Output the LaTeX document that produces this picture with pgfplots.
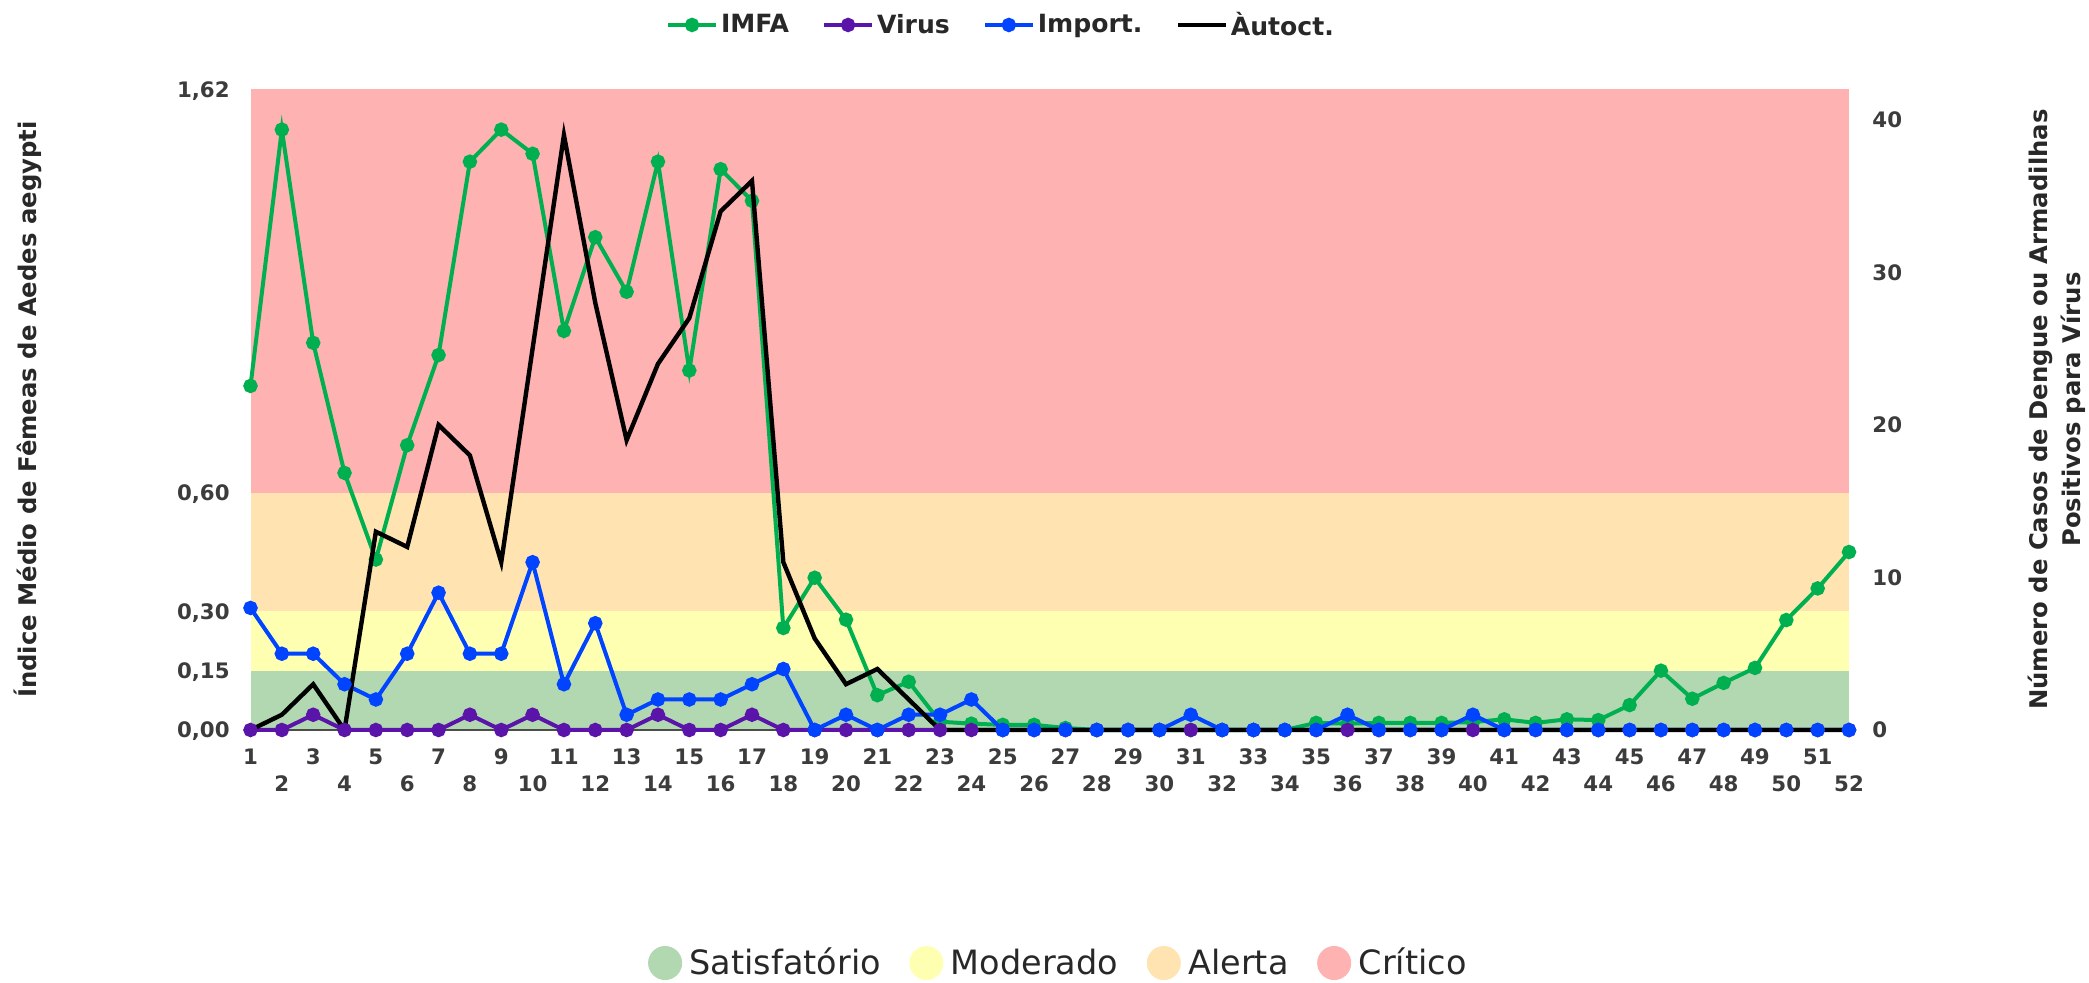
\documentclass[border=0pt]{standalone}
\usepackage{fontspec}
\setmainfont{DejaVu Sans}
\usepackage{pgfplots}
\pgfplotsset{compat=1.18}

\definecolor{bandR}{RGB}{255,178,178}
\definecolor{bandO}{RGB}{255,228,178}
\definecolor{bandY}{RGB}{255,255,178}
\definecolor{bandG}{RGB}{178,216,178}
\definecolor{cimfa}{RGB}{0,176,80}
\definecolor{cvirus}{RGB}{90,20,170}
\definecolor{cimport}{RGB}{0,68,255}
\definecolor{ctick}{RGB}{60,60,60}
\definecolor{ctext}{RGB}{40,40,40}

\pgfplotsset{
 common/.style={
  scale only axis, width=799.25bp, height=320.35bp,
  at={(125.25bp,126.5bp)}, anchor=south west,
  xmin=1, xmax=52,
  axis line style={draw=none},
  major tick length=0pt,
  clip=false,
  /pgf/number format/assume math mode=true,
  tick label style={font=\bfseries\fontsize{10.7}{12}\selectfont, text=ctick},
 }
}

\begin{document}
\begin{tikzpicture}
\useasboundingbox (0,0) rectangle (1044.5bp,491.5bp);

\begin{axis}[common,
  ymin=0, ymax=1.62,
  ytick={0,0.15,0.30,0.60,1.62},
  yticklabels={{0,00},{0,15},{0,30},{0,60},{1,62}},
  yticklabel style={anchor=base east, inner sep=0pt, xshift=-10.25bp, yshift=-3.9bp},
  xtick={1,3,...,51},
  xticklabel style={anchor=north, inner sep=0pt, yshift=-9.1bp},
  extra x ticks={2,4,...,52},
  extra x tick style={xticklabel style={yshift=-13.5bp}},
  legend style={at={(0.5058,-0.3637)}, anchor=center, draw=none, fill=none,
    legend columns=4, font=\fontsize{16.8}{20}\selectfont, text=ctext,
    nodes={inner sep=1.5bp},
    /tikz/every odd column/.append style={column sep=2.5bp},
    /tikz/every even column/.append style={column sep=13bp}},
]
\fill[bandG] (axis cs:1,0) rectangle (axis cs:52,0.15);
\fill[bandY] (axis cs:1,0.15) rectangle (axis cs:52,0.30);
\fill[bandO] (axis cs:1,0.30) rectangle (axis cs:52,0.60);
\fill[bandR] (axis cs:1,0.60) rectangle (axis cs:52,1.62);
\draw[black!70, line width=0.8bp] (axis cs:1,0) -- (axis cs:52,0);

\addplot[cimfa, line width=2bp, mark=*, mark size=2.6bp, forget plot] coordinates {
(1,0.870) (2,1.518) (3,0.979) (4,0.650) (5,0.431) (6,0.720) (7,0.948) (8,1.437)
(9,1.518) (10,1.457) (11,1.009) (12,1.246) (13,1.108) (14,1.437) (15,0.909) (16,1.418)
(17,1.338) (18,0.258) (19,0.385) (20,0.279) (21,0.088) (22,0.122) (23,0.021) (24,0.016)
(25,0.013) (26,0.013) (27,0.005) (28,0) (29,0) (30,0) (31,0) (32,0)
(33,0) (34,0) (35,0.018) (36,0.016) (37,0.018) (38,0.018) (39,0.018) (40,0.020)
(41,0.027) (42,0.018) (43,0.027) (44,0.025) (45,0.063) (46,0.150) (47,0.079) (48,0.119)
(49,0.157) (50,0.278) (51,0.358) (52,0.450)
};

\addlegendimage{only marks, mark=*, mark size=8.3bp, color=bandG}
\addlegendentry{Satisfatório}
\addlegendimage{only marks, mark=*, mark size=8.3bp, color=bandY}
\addlegendentry{Moderado}
\addlegendimage{only marks, mark=*, mark size=8.3bp, color=bandO}
\addlegendentry{Alerta}
\addlegendimage{only marks, mark=*, mark size=8.3bp, color=bandR}
\addlegendentry{Crítico}
\end{axis}

\begin{axis}[common,
  ymin=0, ymax=42,
  ytick={0,10,20,30,40},
  yticklabel pos=right,
  yticklabel style={anchor=base west, inner sep=0pt, xshift=11.5bp, yshift=-3.9bp},
  xtick=\empty,
  legend style={at={(0.4698,1.1004)}, anchor=center, draw=none, fill=none,
    legend columns=4, font=\bfseries\fontsize{12.6}{14}\selectfont, text=ctext,
    nodes={inner sep=1.5bp},
    /tikz/every even column/.append style={column sep=15bp}},
  legend image code/.code={\draw[mark repeat=2,mark phase=2] plot coordinates {(0bp,0bp) (12bp,0bp) (24bp,0bp)};},
]
\addlegendimage{cimfa, line width=2bp, mark=*, mark size=2.6bp}
\addlegendentry{IMFA}

\addplot[cvirus, line width=2bp, mark=*, mark size=2.6bp] coordinates {
(1,0) (2,0) (3,1) (4,0) (5,0) (6,0) (7,0) (8,1) (9,0) (10,1) (11,0) (12,0) (13,0)
(14,1) (15,0) (16,0) (17,1) (18,0) (19,0) (20,0) (21,0) (22,0) (23,0) (24,0) (25,0) (26,0)
(27,0) (28,0) (29,0) (30,0) (31,0) (32,0) (33,0) (34,0) (35,0) (36,0) (37,0) (38,0) (39,0)
(40,0) (41,0) (42,0) (43,0) (44,0) (45,0) (46,0) (47,0) (48,0) (49,0) (50,0) (51,0) (52,0)
};
\addlegendentry{Virus}

\addplot[cimport, line width=2bp, mark=*, mark size=2.6bp] coordinates {
(1,8) (2,5) (3,5) (4,3) (5,2) (6,5) (7,9) (8,5) (9,5) (10,11) (11,3) (12,7) (13,1)
(14,2) (15,2) (16,2) (17,3) (18,4) (19,0) (20,1) (21,0) (22,1) (23,1) (24,2) (25,0) (26,0)
(27,0) (28,0) (29,0) (30,0) (31,1) (32,0) (33,0) (34,0) (35,0) (36,1) (37,0) (38,0) (39,0)
(40,1) (41,0) (42,0) (43,0) (44,0) (45,0) (46,0) (47,0) (48,0) (49,0) (50,0) (51,0) (52,0)
};
\addlegendentry{Import.}

\addplot[black, line width=2.2bp, no marks] coordinates {
(1,0) (2,1) (3,3) (4,0) (5,13) (6,12) (7,20) (8,18) (9,11) (10,25) (11,39) (12,28) (13,19)
(14,24) (15,27) (16,34) (17,36) (18,11) (19,6) (20,3) (21,4) (22,2) (23,0) (24,0) (25,0) (26,0)
(27,0) (28,0) (29,0) (30,0) (31,0) (32,0) (33,0) (34,0) (35,0) (36,0) (37,0) (38,0) (39,0)
(40,0) (41,0) (42,0) (43,0) (44,0) (45,0) (46,0) (47,0) (48,0) (49,0) (50,0) (51,0) (52,0)
};
\addlegendentry{Àutoct.}
\end{axis}

\node[rotate=90, font=\bfseries\fontsize{12.2}{14}\selectfont, text=ctext] at (13.8bp,286.7bp)
  {Índice Médio de Fêmeas de Aedes aegypti};
\node[rotate=90, align=center, font=\bfseries\fontsize{12.2}{16.5}\selectfont, text=ctext] at (1028.25bp,286.7bp)
  {Número de Casos de Dengue ou Armadilhas\\Positivos para Vírus};
\end{tikzpicture}
\end{document}
